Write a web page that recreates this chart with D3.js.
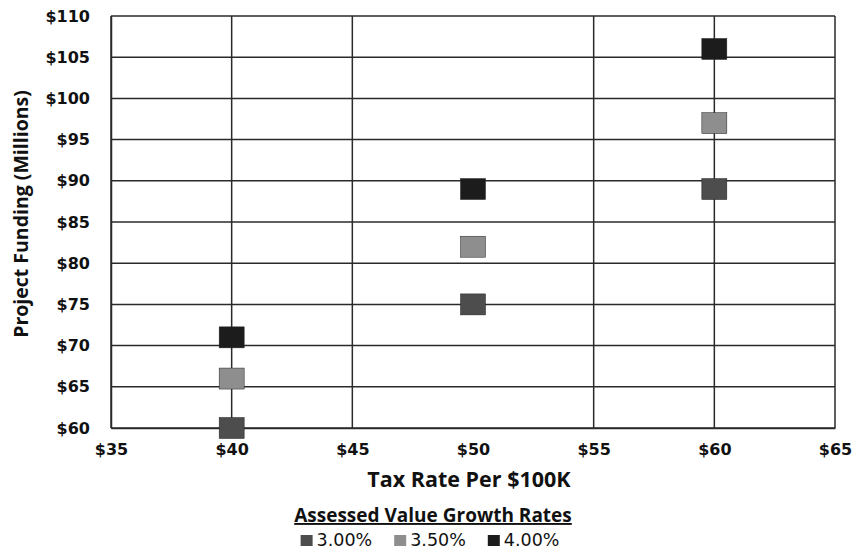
<!DOCTYPE html>
<head>
    <style>
    body { margin: 0; background: #fff; }
    .tick text { font-family: "DejaVu Sans"; font-weight: bold; font-size: 16px; fill: #111; }
    .title { font-family: "Open Sans"; font-weight: bold; fill: #111; }
    .legend text { font-family: "DejaVu Sans"; font-size: 17.5px; fill: #111; }
    </style>
    <script src="https://d3js.org/d3.v7.min.js"></script>
</head>
<body>
    <svg width="862" height="559"></svg>
    <script>

    var taxRates = [40, 50, 60];
    var growth3 = [60, 75, 89];
    var growth35 = [66, 82, 97];
    var growth4 = [71, 89, 106];
    var seriesNames = ["3.00%", "3.50%", "4.00%"];
    var xTicks = [35, 40, 45, 50, 55, 60, 65];
    var yTicks = [60, 65, 70, 75, 80, 85, 90, 95, 100, 105, 110];

    var series = [
      { name: seriesNames[0], values: growth3, color: "#4d4d4d" },
      { name: seriesNames[1], values: growth35, color: "#8e8e8e" },
      { name: seriesNames[2], values: growth4, color: "#1c1c1c" }
    ];

    var svg = d3.select("svg");
    var plotLeft = 111, plotRight = 835, plotTop = 16, plotBottom = 428;

    var x = d3.scaleLinear().domain([35, 65]).range([plotLeft, plotRight]);
    var y = d3.scaleLinear().domain([60, 110]).range([plotBottom, plotTop]);

    // grid (Excel chart has no vertical line at $50)
    svg.append("g").selectAll("line")
        .data(yTicks)
      .enter().append("line")
        .attr("x1", plotLeft).attr("x2", plotRight)
        .attr("y1", function(d) { return y(d); })
        .attr("y2", function(d) { return y(d); })
        .attr("stroke", "#2a2a2a")
        .attr("stroke-width", 1.5);

    svg.append("g").selectAll("line")
        .data(xTicks.filter(function(d) { return d !== 50; }))
      .enter().append("line")
        .attr("x1", function(d) { return x(d); })
        .attr("x2", function(d) { return x(d); })
        .attr("y1", plotTop).attr("y2", plotBottom)
        .attr("stroke", "#2a2a2a")
        .attr("stroke-width", 1.5);

    svg.append("g")
        .attr("transform", "translate(0," + plotBottom + ")")
        .call(d3.axisBottom(x).tickValues(xTicks).tickSize(0).tickPadding(16)
          .tickFormat(function(d) { return "$" + d; }))
        .call(function(g) { g.select(".domain").attr("stroke", "#2a2a2a").attr("stroke-width", 1.5); });

    svg.append("g")
        .attr("transform", "translate(" + plotLeft + ",0)")
        .call(d3.axisLeft(y).tickValues(yTicks).tickSize(0).tickPadding(21)
          .tickFormat(function(d) { return "$" + d; }))
        .call(function(g) { g.select(".domain").attr("stroke", "#2a2a2a").attr("stroke-width", 1.5); });

    // markers
    series.forEach(function(s) {
      svg.append("g").selectAll("rect")
          .data(s.values)
        .enter().append("rect")
          .attr("x", function(d, i) { return x(taxRates[i]) - 12.5; })
          .attr("y", function(d) { return y(d) - 10.5; })
          .attr("width", 25)
          .attr("height", 21)
          .attr("fill", s.color)
          .attr("stroke", "#222")
          .attr("stroke-width", 0.5);
    });

    svg.append("text")
        .attr("class", "title")
        .attr("x", 469)
        .attr("y", 487)
        .attr("text-anchor", "middle")
        .style("font-size", "21.5px")
        .text("Tax Rate Per $100K");

    svg.append("text")
        .attr("class", "title")
        .attr("transform", "translate(28,214) rotate(-90)")
        .attr("text-anchor", "middle")
        .style("font-size", "19.5px")
        .text("Project Funding (Millions)");

    // legend
    svg.append("text")
        .attr("class", "title")
        .attr("x", 433)
        .attr("y", 522)
        .attr("text-anchor", "middle")
        .style("font-size", "19px")
        .style("text-decoration", "underline")
        .text("Assessed Value Growth Rates");

    var legend = svg.append("g").attr("class", "legend");
    var cx = 0;
    series.forEach(function(s) {
      var item = legend.append("g").attr("transform", "translate(" + cx + ",0)");
      item.append("rect")
          .attr("x", 0).attr("y", -11)
          .attr("width", 12).attr("height", 11)
          .attr("fill", s.color);
      var t = item.append("text")
          .attr("x", 16).attr("y", 0)
          .text(s.name);
      cx += 16 + t.node().getComputedTextLength() + 22;
    });
    var lw = cx - 22;
    legend.attr("transform", "translate(" + (430 - lw / 2) + ",546)");

    </script>
</body>
